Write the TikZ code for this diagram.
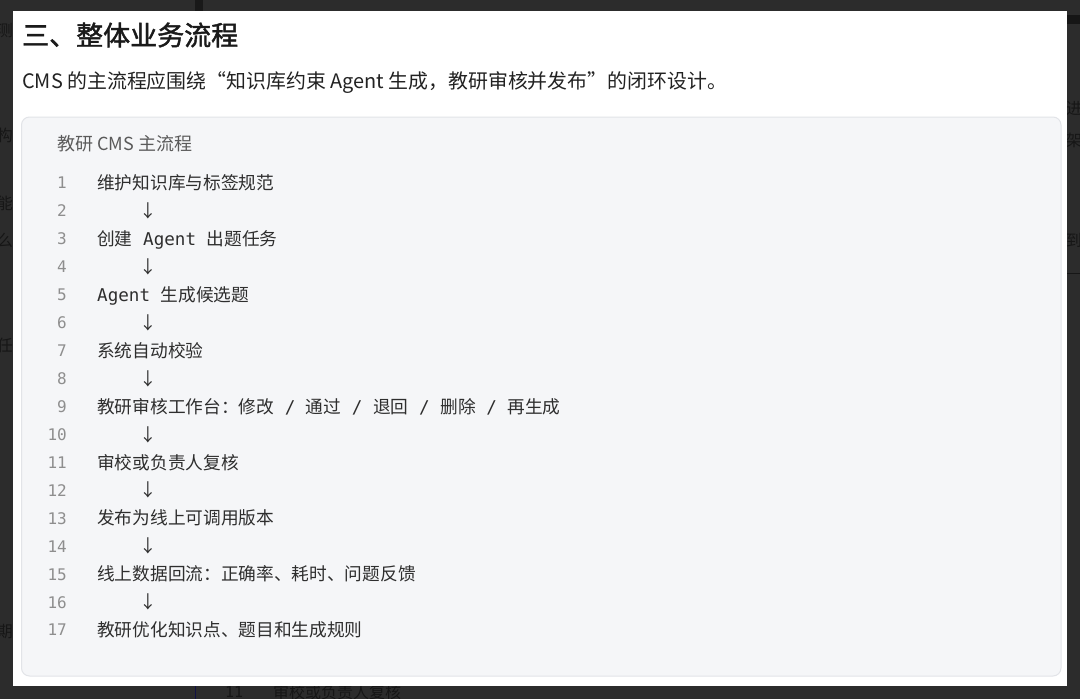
\documentclass[tikz,border=0pt]{standalone}
\usepackage{fontspec}
\newfontfamily\cjk{Noto Sans CJK SC}
\newfontfamily\cjkhead{Noto Sans CJK SC}[FakeBold=1.6]
\newfontfamily\mono{DejaVu Sans Mono}
\definecolor{outerbg}{HTML}{2C2C2C}
\definecolor{ghost}{HTML}{161616}
\definecolor{codebg}{HTML}{F5F6F8}
\definecolor{codeborder}{HTML}{E2E4E8}
\definecolor{headc}{HTML}{1A1A1A}
\definecolor{parac}{HTML}{222222}
\definecolor{titlec}{HTML}{5A5A5A}
\definecolor{codec}{HTML}{2E2E2E}
\definecolor{numc}{HTML}{8E8E8E}
\newcommand\msp{\hspace{10.6pt}}
\newcommand\agt{{\mono\fontsize{17.6}{18}\selectfont Agent}}
\newcommand\slsep{\msp{\mono\fontsize{17.6}{18}\selectfont/}\msp}
\tikzset{
  ghostl/.style={anchor=east, inner sep=0, text=ghost, font=\cjk\fontsize{16}{16}\selectfont},
  ghostr/.style={anchor=west, inner sep=0, text=ghost, font=\cjk\fontsize{16}{16}\selectfont},
  heading/.style={anchor=base west, inner sep=0, text=headc, font=\cjkhead\fontsize{27}{30}\selectfont},
  para/.style={anchor=base west, inner sep=0, text=parac, font=\cjk\fontsize{19.9}{24}\selectfont},
  blocktitle/.style={anchor=base west, inner sep=0, text=titlec, font=\cjk\fontsize{18}{20}\selectfont},
  lnum/.style={anchor=base east, inner sep=0, text=numc, font=\mono\fontsize{16}{16}\selectfont},
  ltext/.style={anchor=base west, inner sep=0, text=codec, font=\cjk\fontsize{17.7}{20}\selectfont},
  arr/.style={anchor=center, inner sep=0, text=codec, font=\cjk\fontsize{17.6}{18}\selectfont},
}
\newcommand\codeline[2]{%
  \node[lnum] (n#1) at (67,{183+(#1-1)*27.94+5.9}) {#1};
  \node[ltext] (t#1) at (97,{183+(#1-1)*27.94+6.6}) {#2};}
\newcommand\arrowline[1]{%
  \node[lnum] (n#1) at (67,{183+(#1-1)*27.94+5.9}) {#1};
  \node[arr] (t#1) at (148,{183+(#1-1)*27.94}) {↓};}
\begin{document}
\begin{tikzpicture}[x=1pt,y=-1pt]
\useasboundingbox (0,0) rectangle (1080,699);
\fill[outerbg] (0,0) rectangle (1080,699);
% ghost content behind the overlay
\fill[black!90] (195,0) rectangle (203,11);
\fill[ghost] (1067,15) rectangle (1080,24);
\draw[ghost, line width=1] (1067,273) -- (1080,273);
\draw[ghost!80!blue, line width=1] (195,686) -- (195,699);
\node[ghostl] (g1) at (13,30) {测};
\node[ghostl] (g2) at (13,135) {构};
\node[ghostl] (g3) at (13,203) {能};
\node[ghostl] (g4) at (13,240) {么};
\node[ghostl] (g5) at (13,345) {任};
\node[ghostl] (g6) at (13,632) {期};
\node[ghostr] (g7) at (1066,108) {进};
\node[ghostr] (g8) at (1066,140) {架};
\node[ghostr] (g9) at (1066,240) {到};
\node[anchor=west, inner sep=0, text=ghost, font=\mono\fontsize{15}{15}\selectfont] (g10) at (225,692) {11};
\node[ghostr] (g11) at (273,692) {审校或负责人复核};
% panel
\fill[white] (13,11) rectangle (1067,686);
\node[heading] (head) at (22,45.3) {三、整体业务流程};
\node[para] (intro) at (22,88.4) {CMS 的主流程应围绕“知识库约束 Agent 生成，教研审核并发布”的闭环设计。};
% code block
\draw[codeborder, fill=codebg, line width=1, rounded corners=8] (21.5,117) rectangle (1061,676);
\node[blocktitle] (btitle) at (57,150.8) {教研 CMS 主流程};
\codeline{1}{维护知识库与标签规范}
\arrowline{2}
\codeline{3}{创建\msp\agt\msp 出题任务}
\arrowline{4}
\codeline{5}{\agt\msp 生成候选题}
\arrowline{6}
\codeline{7}{系统自动校验}
\arrowline{8}
\codeline{9}{教研审核工作台：修改\slsep 通过\slsep 退回\slsep 删除\slsep 再生成}
\arrowline{10}
\codeline{11}{审校或负责人复核}
\arrowline{12}
\codeline{13}{发布为线上可调用版本}
\arrowline{14}
\codeline{15}{线上数据回流：正确率、耗时、问题反馈}
\arrowline{16}
\codeline{17}{教研优化知识点、题目和生成规则}
\end{tikzpicture}
\end{document}
